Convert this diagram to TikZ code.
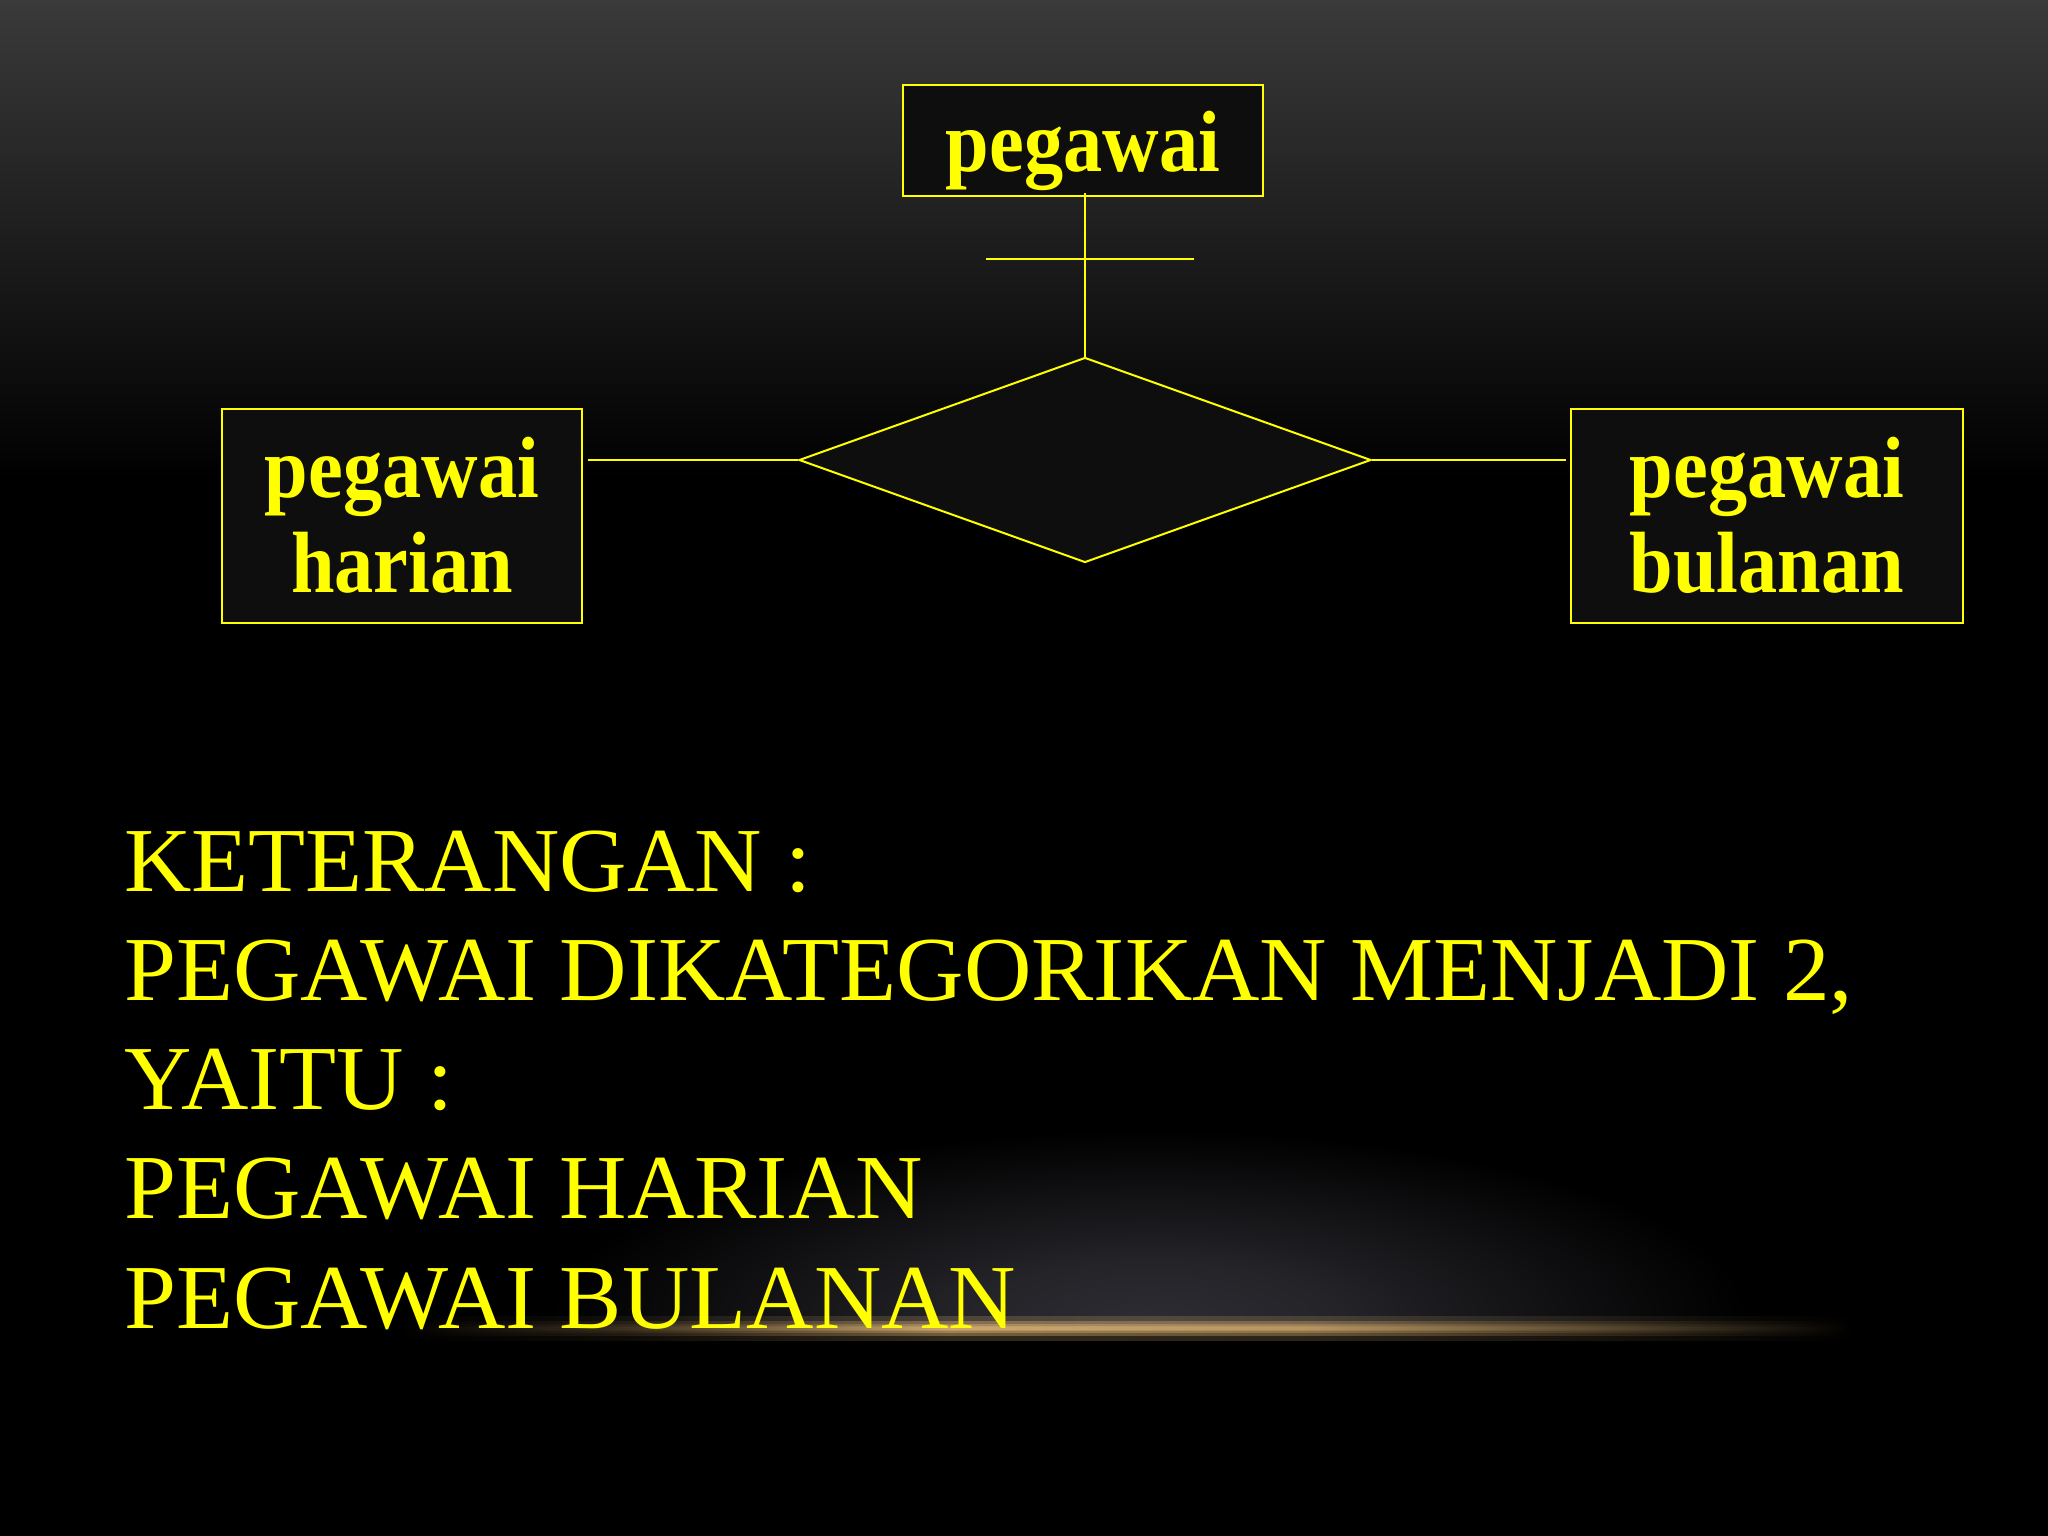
\documentclass[tikz,border=0pt]{standalone}
\usepackage{fontspec}
\setmainfont{Liberation Serif}[FakeStretch=1.02]
\newfontfamily\boxfont{Liberation Serif}[FakeStretch=0.9]
\usetikzlibrary{shapes.geometric}
\definecolor{ylw}{RGB}{255,255,0}
\definecolor{boxfill}{RGB}{14,14,14}
\definecolor{topgray}{RGB}{58,58,58}
\definecolor{goldglow}{RGB}{245,200,130}
\definecolor{hazegray}{RGB}{44,44,50}
\pgfdeclarehorizontalshading{goldh}{100bp}{color(0bp)=(black); color(25bp)=(black); color(33bp)=(goldglow!30!black); color(44bp)=(goldglow); color(56bp)=(goldglow!90!black); color(66bp)=(goldglow!45!black); color(75bp)=(black); color(100bp)=(black)}
\pgfdeclareradialshading{haze}{\pgfpoint{0bp}{0bp}}{color(0bp)=(hazegray); color(8bp)=(hazegray!80!black); color(25bp)=(black); color(50bp)=(black)}
\tikzset{
  entity/.style={draw=ylw, line width=2pt, fill=boxfill, rectangle, inner sep=0pt},
  btext/.style={text=ylw, inner sep=0pt, anchor=base, font=\boxfont\bfseries\fontsize{87}{95}\selectfont},
  ntext/.style={text=ylw, inner sep=0pt, anchor=base west, font=\fontsize{91.5}{109}\selectfont},
  conn/.style={draw=ylw, line width=2pt},
  glowlayer/.style={shading=goldh, opacity=0.33}
}
\begin{document}
\begin{tikzpicture}[x=1pt,y=-1pt]
\useasboundingbox (0,0) rectangle (2048,1536);
% background
\fill[black] (0,0) rectangle (2048,1536);
\shade[top color=topgray, bottom color=black] (0,0) rectangle (2048,480);
\begin{scope}
  \clip (0,0) rectangle (2048,1326);
  \shade[shading=haze] (1150,1320) ellipse (600 and 190);
\end{scope}
% golden horizon line
\shade[glowlayer, opacity=0.2] (390,1316) rectangle (1860,1340);
\shade[glowlayer] (390,1321) rectangle (1860,1335);
\shade[glowlayer] (390,1324) rectangle (1860,1332);
\shade[glowlayer] (390,1326) rectangle (1860,1330);
\shade[glowlayer] (390,1327) rectangle (1860,1329);

% entities
\node[entity, minimum width=360, minimum height=111] (top) at (1083,140.5) {};
\node[entity, minimum width=360, minimum height=214] (left) at (402,516) {};
\node[entity, minimum width=392, minimum height=214] (right) at (1767,516) {};
\node[diamond, draw=ylw, line width=2pt, fill=boxfill, inner sep=0pt, minimum width=572, minimum height=205] (rel) at (1085,460) {};

% box texts
\node[btext] (ttop) at (1083,171.5) {pegawai};
\node[btext] (tl1) at (402,497) {pegawai};
\node[btext] (tl2) at (402,592) {harian};
\node[btext] (tr1) at (1767,497) {pegawai};
\node[btext] (tr2) at (1767,592) {bulanan};

% connectors
\coordinate (tj) at (top.south -| rel.north);
\coordinate (lj) at (left.east |- rel.west);
\coordinate (rj) at (right.west |- rel.east);
\draw[conn] ([yshift=4]tj) -- (rel.north);
\coordinate (bar) at (1085,259);
\draw[conn] ([xshift=-99]bar) -- ([xshift=109]bar);
\draw[conn] ([xshift=5]lj) -- (rel.west);
\draw[conn] (rel.east) -- ([xshift=-4]rj);

% description
\node[ntext] (k1) at (124,891) {KETERANGAN :};
\node[ntext] (k2) at (124,1000) {PEGAWAI DIKATEGORIKAN MENJADI 2,};
\node[ntext] (k3) at (124,1109) {YAITU :};
\node[ntext] (k4) at (124,1218) {PEGAWAI HARIAN};
\node[ntext] (k5) at (124,1328) {PEGAWAI BULANAN};
\end{tikzpicture}
\end{document}
